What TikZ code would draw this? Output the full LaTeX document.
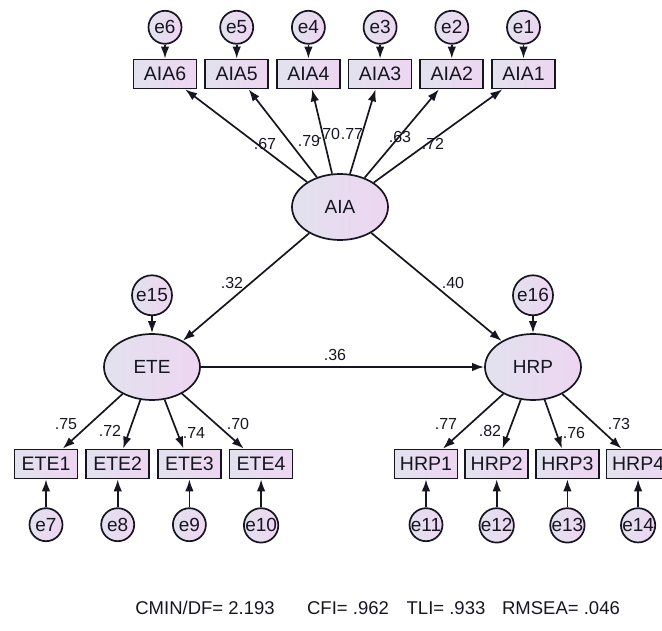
\documentclass[tikz,border=0pt]{standalone}
\usepackage{fontspec}
\setmainfont{Liberation Sans}
\usetikzlibrary{arrows.meta, positioning, shapes.geometric}

\definecolor{shadeL}{RGB}{226,226,238}
\definecolor{shadeR}{RGB}{238,213,242}
\definecolor{inkc}{RGB}{22,22,32}

\begin{document}
\begin{tikzpicture}[
      x=1pt, y=-1pt,
      latent/.style={ellipse, draw=inkc, line width=1.7pt, minimum width=96pt, minimum height=66pt, left color=shadeL, right color=shadeR, text=inkc, font=\fontsize{19}{19}\selectfont},
      indicator/.style={rectangle, draw=inkc, line width=1.7pt, minimum width=63pt, minimum height=29pt, inner sep=2pt, left color=shadeL, right color=shadeR, text=inkc, font=\fontsize{19.5}{19.5}\selectfont},
      errc/.style={circle, draw=inkc, line width=1.7pt, minimum size=33pt, inner sep=0pt, left color=shadeL, right color=shadeR, text=inkc, font=\fontsize{19}{19}\selectfont},
      coef/.style={inner sep=0pt, text=inkc, font=\fontsize{16}{16}\selectfont},
      fitidx/.style={inner sep=0pt, text=inkc, font=\fontsize{18.5}{18.5}\selectfont},
      arrow/.style={-{Latex[length=12pt, width=8.5pt]}, line width=1.7pt, draw=inkc}
  ]
      \useasboundingbox (0,0) rectangle (662,631);

      % Latent variables
      \node[latent] (AIA) at (340,207) {AIA};
      \node[latent] (ETE) at (152,367) {ETE};
      \node[latent] (HRP) at (533,367) {HRP};

      % AIA indicators
      \node[indicator] (AIA6) at (165,74) {AIA6};
      \node[indicator, right=7pt of AIA6] (AIA5) {AIA5};
      \node[indicator, right=7pt of AIA5] (AIA4) {AIA4};
      \node[indicator, right=7pt of AIA4] (AIA3) {AIA3};
      \node[indicator, right=7pt of AIA3] (AIA2) {AIA2};
      \node[indicator, right=7pt of AIA2] (AIA1) {AIA1};

      % ETE and HRP indicators
      \node[indicator] (ETE1) at (46,464) {ETE1};
      \node[indicator, right=7pt of ETE1] (ETE2) {ETE2};
      \node[indicator, right=7pt of ETE2] (ETE3) {ETE3};
      \node[indicator, right=7pt of ETE3] (ETE4) {ETE4};
      \node[indicator] (HRP1) at (426,464) {HRP1};
      \node[indicator, right=6pt of HRP1] (HRP2) {HRP2};
      \node[indicator, right=6pt of HRP2] (HRP3) {HRP3};
      \node[indicator, right=6pt of HRP3] (HRP4) {HRP4};

      % Error terms
      \node[errc, above=14pt of AIA6] (e6) {e6};
      \node[errc, above=14pt of AIA5] (e5) {e5};
      \node[errc, above=14pt of AIA4] (e4) {e4};
      \node[errc, above=14pt of AIA3] (e3) {e3};
      \node[errc, above=14pt of AIA2] (e2) {e2};
      \node[errc, above=14pt of AIA1] (e1) {e1};
      \node[errc, below=28pt of ETE1] (e7) {e7};
      \node[errc, below=28pt of ETE2] (e8) {e8};
      \node[errc, below=28pt of ETE3] (e9) {e9};
      \node[errc, below=28pt of ETE4] (e10) {e10};
      \node[errc, below=28pt of HRP1] (e11) {e11};
      \node[errc, below=28pt of HRP2] (e12) {e12};
      \node[errc, below=28pt of HRP3] (e13) {e13};
      \node[errc, below=28pt of HRP4] (e14) {e14};
      \node[errc, minimum size=40pt, above=17pt of ETE] (e15) {e15};
      \node[errc, minimum size=40pt, above=17pt of HRP] (e16) {e16};

      % Coefficients
      \node[coef] (c67) at (265,144) {.67};
      \node[coef] (c79) at (309,141) {.79};
      \node[coef] (c70a) at (329,134) {.70};
      \node[coef] (c77a) at (352,134) {.77};
      \node[coef] (c63) at (400,137) {.63};
      \node[coef] (c72a) at (433,144) {.72};
      \node[coef] (c32) at (232,283) {.32};
      \node[coef] (c40) at (453,283) {.40};
      \node[coef] (c36) at (335,355) {.36};
      \node[coef] (c75) at (66,424) {.75};
      \node[coef] (c72b) at (110,431) {.72};
      \node[coef] (c74) at (194,433) {.74};
      \node[coef] (c70b) at (238,424) {.70};
      \node[coef] (c77b) at (446,424) {.77};
      \node[coef] (c82) at (490,431) {.82};
      \node[coef] (c76) at (574,433) {.76};
      \node[coef] (c73) at (619,424) {.73};

      % Fit indices
      \node[fitidx] (fitA) at (205,608) {CMIN/DF= 2.193};
      \node[fitidx] (fitB) at (348,608) {CFI= .962};
      \node[fitidx] (fitC) at (446,608) {TLI= .933};
      \node[fitidx] (fitD) at (561,608) {RMSEA= .046};

      % Arrows
      \draw[arrow] (e6) -- (AIA6);
      \draw[arrow] (e5) -- (AIA5);
      \draw[arrow] (e4) -- (AIA4);
      \draw[arrow] (e3) -- (AIA3);
      \draw[arrow] (e2) -- (AIA2);
      \draw[arrow] (e1) -- (AIA1);
      \draw[arrow] (AIA) -- (AIA6);
      \draw[arrow] (AIA) -- (AIA5);
      \draw[arrow] (AIA) -- (AIA4);
      \draw[arrow] (AIA) -- (AIA3);
      \draw[arrow] (AIA) -- (AIA2);
      \draw[arrow] (AIA) -- (AIA1);
      \draw[arrow] (AIA) -- (ETE);
      \draw[arrow] (AIA) -- (HRP);
      \draw[arrow] (ETE) -- (HRP);
      \draw[arrow] (e15) -- (ETE);
      \draw[arrow] (e16) -- (HRP);
      \draw[arrow] (ETE) -- (ETE1);
      \draw[arrow] (ETE) -- (ETE2);
      \draw[arrow] (ETE) -- (ETE3);
      \draw[arrow] (ETE) -- (ETE4);
      \draw[arrow] (HRP) -- (HRP1);
      \draw[arrow] (HRP) -- (HRP2);
      \draw[arrow] (HRP) -- (HRP3);
      \draw[arrow] (HRP) -- (HRP4);
      \draw[arrow] (e7) -- (ETE1);
      \draw[arrow] (e8) -- (ETE2);
      \draw[arrow] (e9) -- (ETE3);
      \draw[arrow] (e10) -- (ETE4);
      \draw[arrow] (e11) -- (HRP1);
      \draw[arrow] (e12) -- (HRP2);
      \draw[arrow] (e13) -- (HRP3);
      \draw[arrow] (e14) -- (HRP4);
  \end{tikzpicture}
\end{document}
